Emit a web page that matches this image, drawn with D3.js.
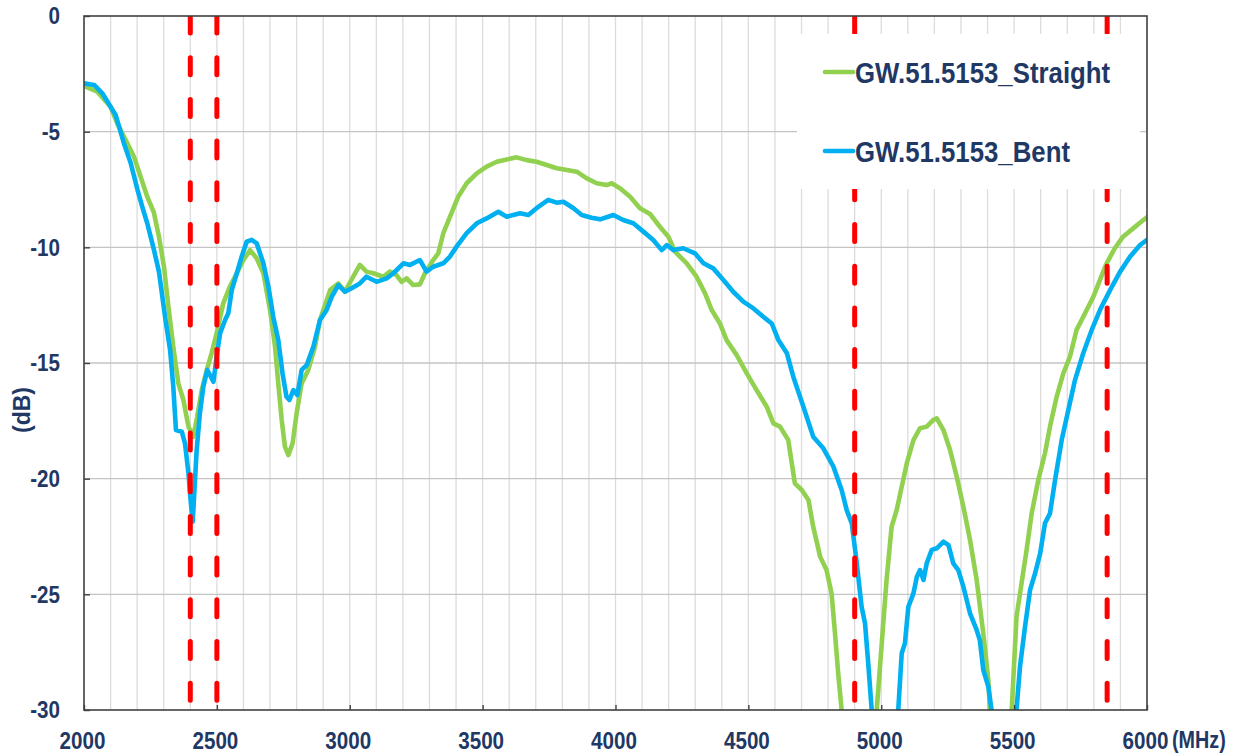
<!DOCTYPE html>
<html>
<head>
<meta charset="utf-8">
<script src="https://cdn.jsdelivr.net/npm/d3@7/dist/d3.min.js"></script>
<style>
  body { margin: 0; background: #fff; }
  svg text { font-family: "Liberation Sans", Arial, sans-serif; font-weight: bold; fill: #1f3864; }
  .sq { transform-box: fill-box; transform: scaleX(0.86); }
</style>
</head>
<body>
<div id="chart"></div>
<script>
const WIDTH = 1237;
const HEIGHT = 753;

// frequency (MHz) / return loss (dB)
const straightFreq = [2000,2050,2100,2125,2163,2188,2213,2238,2263,2282,2301,2317,2336,2355,2374,2393,2411,2426,2443,2462,2480,2499,2524,2549,2575,2600,2625,2650,2675,2700,2719,2731,2744,2756,2769,2785,2800,2819,2844,2869,2888,2926,2957,2982,3013,3038,3063,3089,3126,3151,3176,3195,3214,3239,3264,3283,3314,3333,3352,3377,3408,3440,3478,3515,3553,3591,3628,3666,3703,3741,3779,3817,3854,3892,3929,3967,3986,4017,4055,4092,4130,4167,4199,4224,4268,4305,4337,4362,4393,4418,4456,4494,4531,4569,4594,4619,4650,4675,4701,4726,4744,4770,4794,4813,4826,4838,4851,4917,4983,5001,5020,5039,5058,5077,5096,5121,5146,5171,5196,5209,5234,5259,5284,5309,5334,5359,5384,5403,5409,5450,5491,5509,5528,5547,5566,5591,5616,5635,5660,5685,5710,5735,5767,5798,5823,5848,5879,5910,5948,5986,6000];
const straightDb = [-3.03,-3.27,-3.92,-4.64,-5.5,-6.08,-6.95,-7.81,-8.5,-9.54,-10.84,-12.5,-14.3,-15.88,-16.6,-17.75,-18.19,-17.32,-16.17,-15.3,-14.58,-13.72,-12.42,-11.7,-11.12,-10.55,-10.12,-10.48,-11.12,-12.71,-14.3,-15.88,-17.46,-18.62,-18.98,-18.47,-17.18,-15.88,-15.3,-14.3,-13.14,-11.85,-11.56,-11.92,-11.27,-10.76,-11.05,-11.12,-11.27,-11.05,-11.2,-11.49,-11.34,-11.63,-11.6,-11.12,-10.55,-10.26,-9.39,-8.68,-7.81,-7.23,-6.8,-6.51,-6.3,-6.2,-6.11,-6.23,-6.3,-6.44,-6.58,-6.66,-6.73,-7.02,-7.23,-7.31,-7.23,-7.45,-7.81,-8.31,-8.56,-9.11,-9.54,-10.19,-10.69,-11.27,-11.99,-12.71,-13.29,-14.01,-14.66,-15.45,-16.17,-16.89,-17.61,-17.75,-18.33,-20.2,-20.49,-20.92,-22.08,-23.37,-23.95,-24.96,-26.69,-28.42,-30.0,-40,-30,-27.26,-24.38,-22.08,-21.36,-20.35,-19.34,-18.33,-17.82,-17.75,-17.46,-17.39,-17.9,-18.76,-19.92,-21.21,-22.65,-24.38,-26.69,-28.7,-30,-38,-30,-25.97,-24.52,-23.08,-21.5,-20.06,-18.9,-17.75,-16.46,-15.45,-14.73,-13.57,-12.85,-12.14,-11.41,-10.69,-10.04,-9.54,-9.18,-8.82,-8.7];

const bentFreq = [2000,2038,2069,2100,2119,2132,2150,2176,2201,2219,2238,2263,2282,2305,2324,2336,2346,2368,2380,2393,2401,2409,2415,2424,2436,2449,2464,2474,2487,2499,2512,2531,2543,2556,2575,2593,2612,2631,2650,2675,2694,2712,2731,2747,2762,2773,2788,2803,2819,2838,2863,2888,2913,2932,2957,2982,3007,3038,3063,3101,3139,3164,3202,3227,3264,3289,3314,3352,3377,3402,3440,3478,3515,3559,3591,3641,3672,3703,3747,3779,3804,3842,3873,3910,3942,3992,4029,4067,4105,4142,4174,4193,4218,4255,4299,4331,4368,4406,4443,4481,4519,4556,4588,4613,4645,4669,4707,4744,4782,4820,4851,4870,4889,4908,4926,4939,4951,4964,5014,5064,5077,5089,5102,5121,5134,5146,5159,5171,5190,5209,5234,5253,5271,5290,5309,5334,5359,5371,5384,5403,5415,5462,5509,5522,5541,5560,5579,5598,5616,5635,5654,5679,5704,5729,5760,5792,5823,5861,5899,5936,5974,6000];
const bentDb = [-2.91,-2.98,-3.34,-3.92,-4.28,-4.78,-5.5,-6.37,-7.5,-8.24,-8.96,-10.1,-11.05,-13.0,-14.44,-16.02,-17.9,-17.97,-18.47,-19.77,-20.92,-21.86,-20.63,-18.76,-17.18,-16.02,-15.3,-15.52,-15.81,-14.73,-13.72,-13.14,-12.85,-11.85,-11.12,-10.41,-9.76,-9.68,-9.83,-10.69,-11.7,-13.0,-14.0,-15.45,-16.46,-16.6,-16.17,-16.38,-15.3,-15.09,-14.3,-13.14,-12.71,-12.14,-11.63,-11.92,-11.77,-11.56,-11.27,-11.49,-11.34,-11.12,-10.69,-10.76,-10.55,-11.05,-10.84,-10.69,-10.4,-9.97,-9.39,-8.96,-8.75,-8.46,-8.68,-8.53,-8.6,-8.31,-7.95,-8.07,-8.03,-8.31,-8.6,-8.72,-8.79,-8.6,-8.82,-8.96,-9.32,-9.68,-10.12,-9.9,-10.12,-10.04,-10.26,-10.69,-10.91,-11.41,-11.92,-12.35,-12.64,-13.0,-13.29,-14.01,-14.58,-15.59,-16.89,-18.19,-18.69,-19.48,-20.49,-21.36,-21.93,-23.66,-25.54,-26.26,-27.98,-30,-38,-30,-27.55,-27.12,-25.54,-24.96,-24.24,-23.95,-24.38,-23.66,-23.08,-23.01,-22.72,-22.87,-23.66,-23.95,-24.67,-25.82,-26.54,-26.98,-28.27,-28.99,-30,-38,-30,-28.13,-26.4,-24.81,-24.09,-23.23,-21.93,-21.5,-20.06,-18.33,-17.03,-15.74,-14.58,-13.57,-12.71,-11.85,-11.05,-10.41,-9.9,-9.68];

// band edge markers (MHz)
const bandEdges = [2400, 2500, 4900, 5850];

const seriesNames = ['GW.51.5153_Straight', 'GW.51.5153_Bent'];
const seriesColors = ['#92d050', '#00b0f0'];

const xTicks = [2000, 2500, 3000, 3500, 4000, 4500, 5000, 5500, 6000];
const yTicks = [0, -5, -10, -15, -20, -25, -30];

const plotL = 84, plotR = 1147, plotT = 16, plotB = 710;

const SVG = d3.select('#chart').append('svg')
    .attr('width', WIDTH)
    .attr('height', HEIGHT);

const x = d3.scaleLinear().domain([2000, 6000]).range([plotL, plotR]);
const y = d3.scaleLinear().domain([-30, 0]).range([plotB, plotT]);

SVG.append('defs').append('clipPath').attr('id', 'plot-clip')
    .append('rect')
    .attr('x', plotL).attr('y', plotT)
    .attr('width', plotR - plotL).attr('height', plotB - plotT);

// vertical grid every 100 MHz
SVG.append('g').selectAll('line')
    .data(d3.range(2100, 6000, 100))
    .enter().append('line')
    .attr('x1', d => x(d)).attr('x2', d => x(d))
    .attr('y1', plotT).attr('y2', plotB)
    .attr('stroke', '#dcdcdc')
    .attr('stroke-width', 1.3);

// horizontal grid
SVG.append('g').selectAll('line')
    .data(yTicks.slice(1, -1))
    .enter().append('line')
    .attr('x1', plotL).attr('x2', plotR)
    .attr('y1', d => y(d)).attr('y2', d => y(d))
    .attr('stroke', '#c4c4c4')
    .attr('stroke-width', 1.3);

// curves
const straight = straightFreq.map((f, i) => [f, straightDb[i]]);
const bent = bentFreq.map((f, i) => [f, bentDb[i]]);
const line = d3.line().x(d => x(d[0])).y(d => y(d[1]));

SVG.append('g').attr('clip-path', 'url(#plot-clip)')
    .selectAll('path')
    .data([straight, bent])
    .enter().append('path')
    .attr('d', line)
    .attr('fill', 'none')
    .attr('stroke', (d, i) => seriesColors[i])
    .attr('stroke-width', 4.6)
    .attr('stroke-linejoin', 'round')
    .attr('stroke-linecap', 'round');

// red dashed band edges
SVG.append('g').attr('clip-path', 'url(#plot-clip)')
    .selectAll('line')
    .data(bandEdges)
    .enter().append('line')
    .attr('x1', d => x(d)).attr('x2', d => x(d))
    .attr('y1', plotT).attr('y2', plotB)
    .attr('stroke', '#ff0000')
    .attr('stroke-width', 5)
    .attr('stroke-dasharray', '17,24.7')
    .attr('stroke-linecap', 'round');

// legend box
SVG.append('rect')
    .attr('x', 797).attr('y', 34)
    .attr('width', 343).attr('height', 155)
    .attr('fill', '#fff');

const legend = SVG.append('g').selectAll('g')
    .data(seriesNames)
    .enter().append('g')
    .attr('transform', (d, i) => `translate(825,${72 + i * 79})`);
legend.append('line')
    .attr('x1', 0).attr('x2', 28)
    .attr('stroke', (d, i) => seriesColors[i])
    .attr('stroke-width', 4.7)
    .attr('stroke-linecap', 'round');
legend.append('text')
    .attr('class', 'sq')
    .attr('x', 30).attr('y', 10.5)
    .style('transform-origin', 'left center')
    .style('font-size', '30px')
    .text(d => d);

// plot border
SVG.append('rect')
    .attr('x', plotL).attr('y', plotT)
    .attr('width', plotR - plotL).attr('height', plotB - plotT)
    .attr('fill', 'none')
    .attr('stroke', '#404040')
    .attr('stroke-width', 1.6);

// axes (plain hyphen for negatives, like the original)
const fmt = d => String(d);
const yAxis = SVG.append('g')
    .attr('transform', `translate(${plotL},0)`)
    .call(d3.axisLeft(y).tickValues(yTicks).tickSize(-6).tickPadding(24).tickFormat(fmt));
const xAxis = SVG.append('g')
    .attr('transform', `translate(0,${plotB})`)
    .call(d3.axisBottom(x).tickValues(xTicks).tickSize(-5).tickPadding(22).tickFormat(fmt));

[yAxis, xAxis].forEach(ax => {
    ax.attr('font-family', null).attr('font-size', null);
    ax.select('.domain').remove();
    ax.selectAll('.tick line').attr('stroke', '#404040').attr('stroke-width', 1.4);
    ax.selectAll('.tick text')
        .attr('class', 'sq')
        .style('font-size', '24px');
});
yAxis.selectAll('.tick text').style('transform-origin', 'right center');
xAxis.selectAll('.tick text').attr('dx', -2).style('transform-origin', 'center');

// axis titles
SVG.append('text')
    .attr('class', 'sq')
    .attr('x', 1172).attr('y', 748)
    .style('transform-origin', 'left center')
    .style('font-size', '23px')
    .text('(MHz)');

SVG.append('text')
    .attr('transform', 'translate(30,410) rotate(-90)')
    .attr('text-anchor', 'middle')
    .style('font-size', '23px')
    .text('(dB)');
</script>
</body>
</html>
